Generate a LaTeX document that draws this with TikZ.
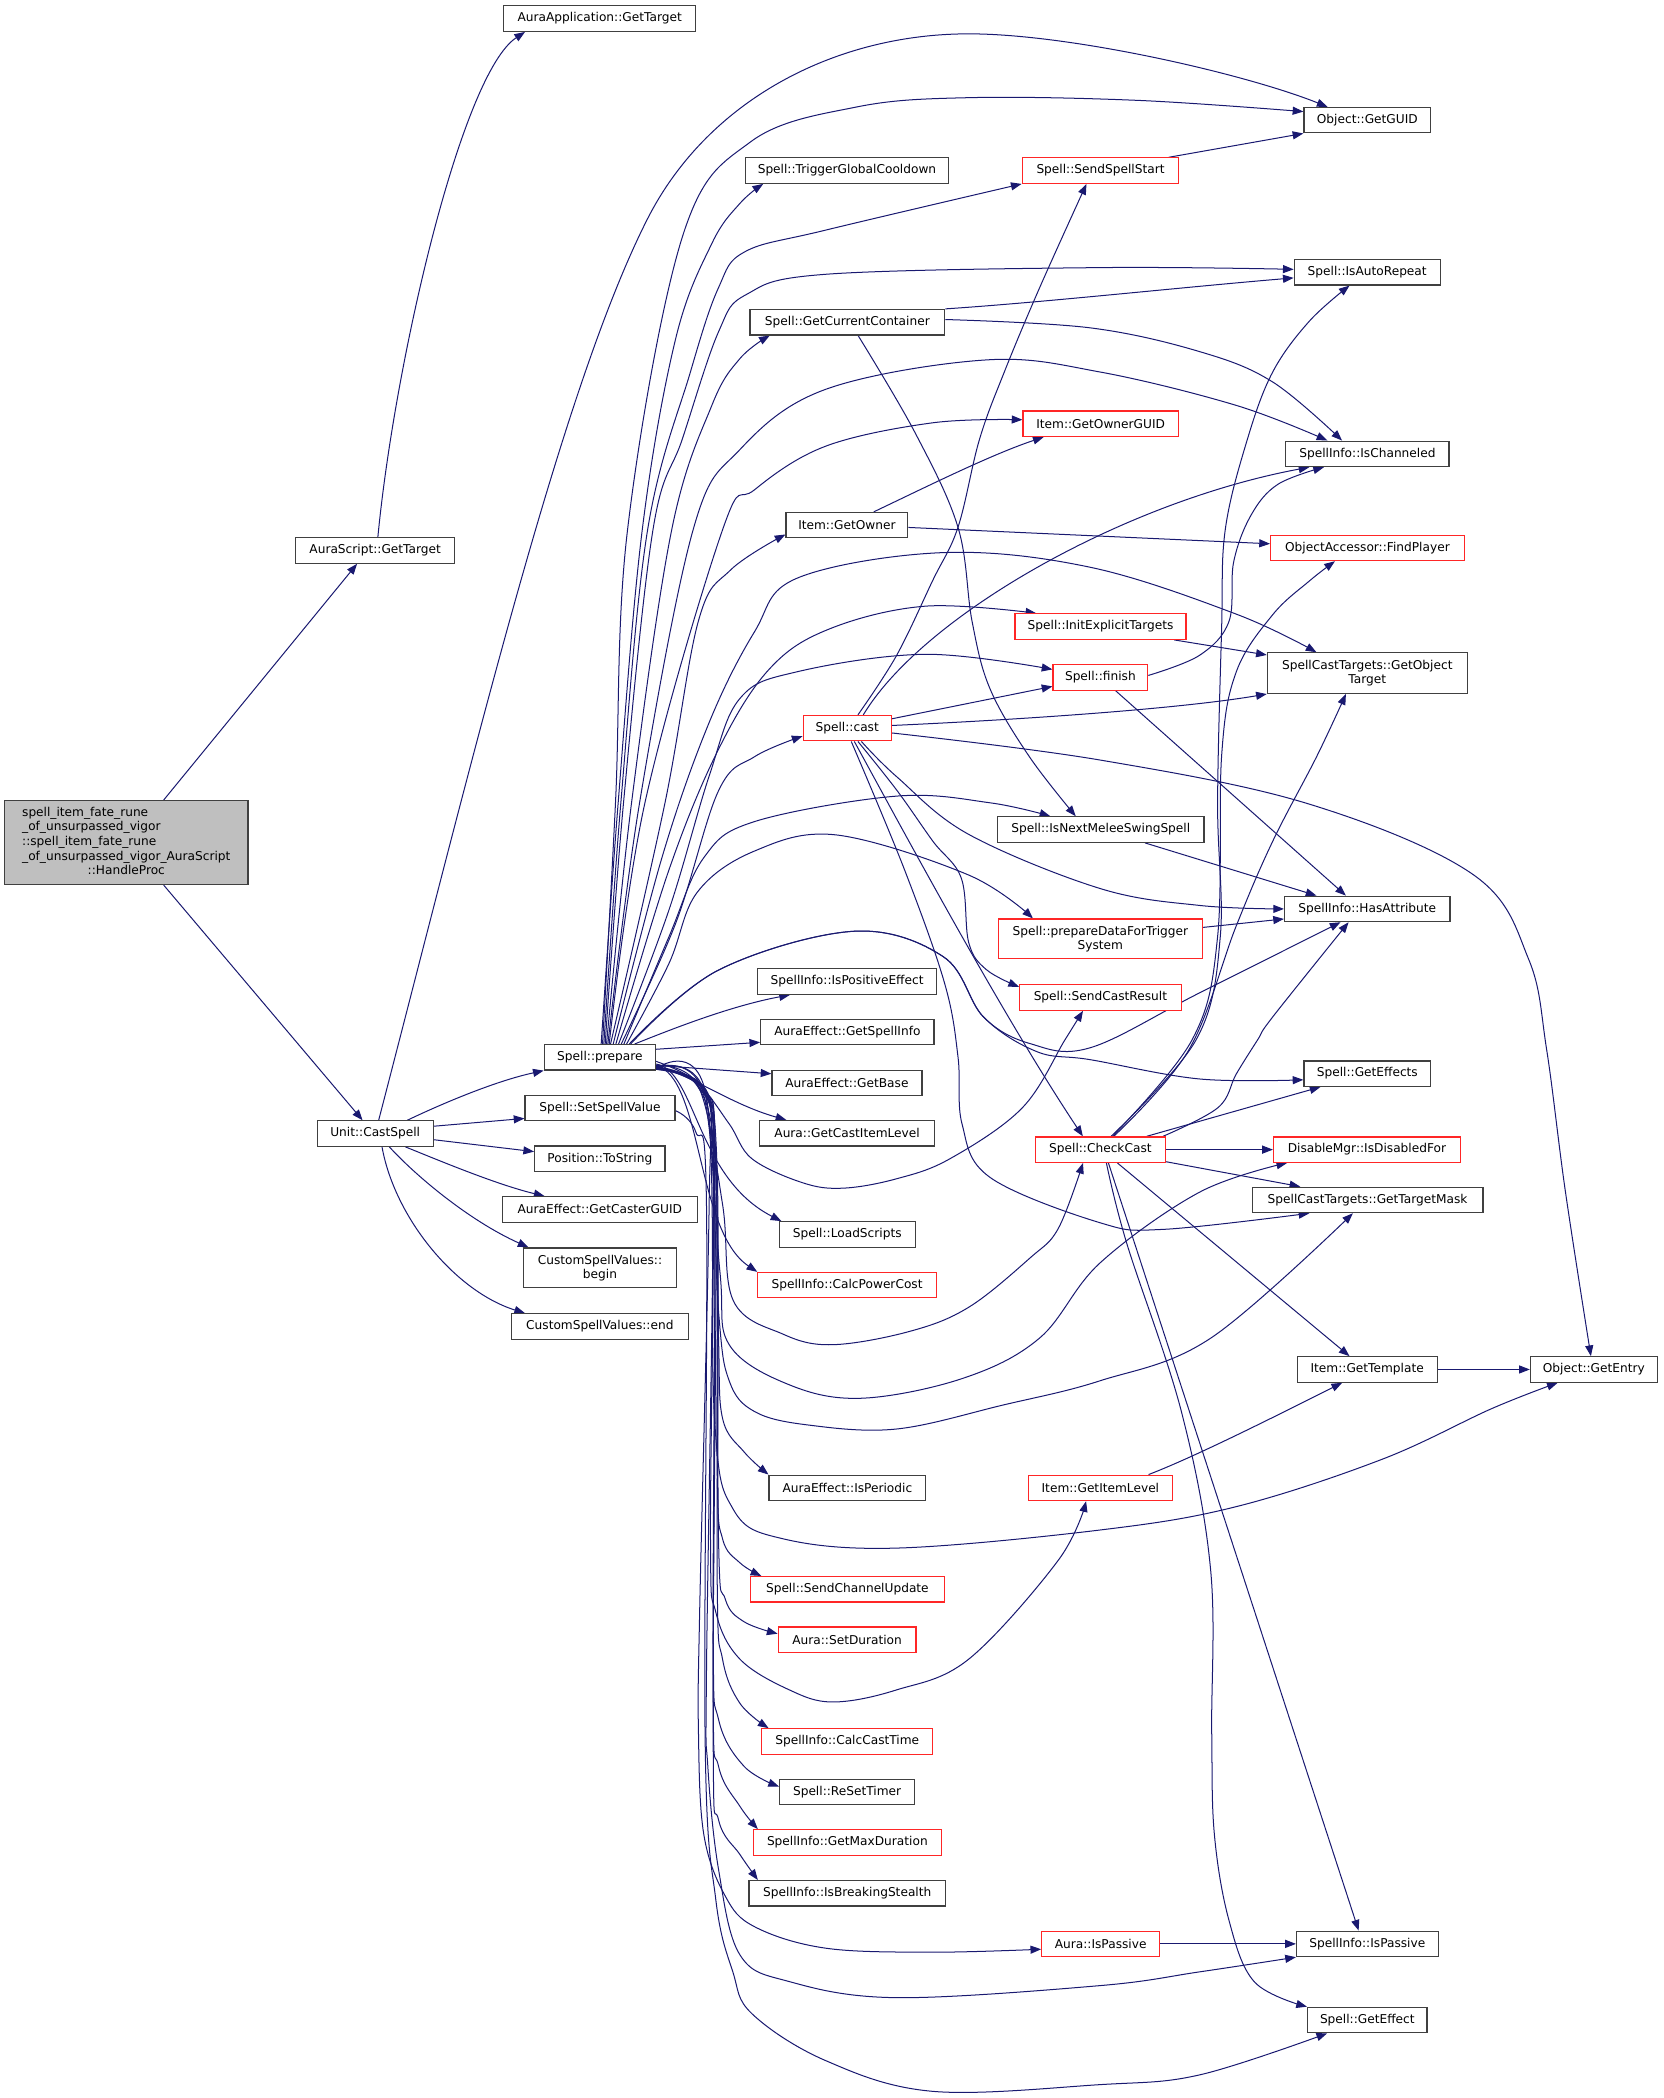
\documentclass[tikz,border=0pt]{standalone}
\usepackage{fontspec}
\setmainfont{DejaVu Sans}
\usetikzlibrary{arrows.meta,backgrounds}
\definecolor{edgeblue}{RGB}{25,25,112}
\definecolor{boxgray}{RGB}{64,64,64}
\definecolor{boxred}{RGB}{255,38,38}
\definecolor{rootgray}{RGB}{191,191,191}
\begin{document}
\begin{tikzpicture}[x=1pt,y=-1pt,
fn/.style={draw=boxgray,line width=0.9pt,fill=white,minimum height=19,inner sep=0pt,font=\fontsize{9.1}{10.6}\selectfont},
rfn/.style={fn,draw=boxred},
call/.style={draw=edgeblue,line width=0.75pt,-{Triangle[length=8pt,width=6pt]}},
sm/.style={smooth,tension=0.6}]
\useasboundingbox(0,0)rectangle(1243,1568);
% functions
\node[fn,fill=rootgray,minimum width=181.8,minimum height=62.6,font=\fontsize{9.1}{10.9}\selectfont](root)at(94.4,629.7){\begin{tabular}{@{}l@{}}spell\_item\_fate\_rune\\\_of\_unsurpassed\_vigor\\::spell\_item\_fate\_rune\\\_of\_unsurpassed\_vigor\_AuraScript\\\multicolumn{1}{@{}c@{}}{::HandleProc}\end{tabular}};
\node[fn,minimum width=143.6](aagt)at(448.2,13.9){AuraApplication::GetTarget};
\node[fn,minimum width=118.8](asgt)at(280.4,411.4){AuraScript::GetTarget};
\node[fn,minimum width=86.8](ucs)at(280.4,847.2){Unit::CastSpell};
\node[fn,minimum width=94.7](ogg)at(1021.9,89.8){Object::GetGUID};
\node[fn,minimum width=152](tgc)at(633,127.5){Spell::TriggerGlobalCooldown};
\node[rfn,minimum width=117](sss)at(822.5,127.5){Spell::SendSpellStart};
\node[fn,minimum width=109](iar)at(1021.8,203.5){Spell::IsAutoRepeat};
\node[fn,minimum width=145.5](gcc)at(633.3,240.8){Spell::GetCurrentContainer};
\node[rfn,minimum width=116](gog)at(822.6,316.7){Item::GetOwnerGUID};
\node[fn,minimum width=122](isch)at(1022,339.2){SpellInfo::IsChanneled};
\node[fn,minimum width=91](igo)at(633,392.5){Item::GetOwner};
\node[rfn,minimum width=144.8](ofp)at(1022,409.5){ObjectAccessor::FindPlayer};
\node[rfn,minimum width=127.8](iet)at(822.5,468.3){Spell::InitExplicitTargets};
\node[fn,minimum width=149.4,minimum height=30.3,align=center](got)at(1021.9,503.1){SpellCastTargets::GetObject\\Target};
\node[rfn,minimum width=70.8](fin)at(822.4,506.3){Spell::finish};
\node[rfn,minimum width=65.9](cst)at(633.2,544.2){Spell::cast};
\node[fn,minimum width=154.4](inm)at(822.7,620){Spell::IsNextMeleeSwingSpell};
\node[fn,minimum width=123.7](hat)at(1021.9,679.3){SpellInfo::HasAttribute};
\node[rfn,minimum width=152.8,minimum height=29.5,align=center](pdt)at(822.4,701.6){Spell::prepareDataForTrigger\\System};
\node[fn,minimum width=133.4](ipe)at(633.1,733.6){SpellInfo::IsPositiveEffect};
\node[rfn,minimum width=120.7](scr)at(822.4,745.5){Spell::SendCastResult};
\node[fn,minimum width=129.5](egsi)at(633.3,771.3){AuraEffect::GetSpellInfo};
\node[fn,minimum width=83](spr)at(448.3,790.2){Spell::prepare};
\node[fn,minimum width=94.7](sge)at(1021.9,802.4){Spell::GetEffects};
\node[fn,minimum width=112](egb)at(633,809.3){AuraEffect::GetBase};
\node[fn,minimum width=112](ssv)at(448.4,828.1){Spell::SetSpellValue};
\node[fn,minimum width=130.8](agcl)at(633.1,847){Aura::GetCastItemLevel};
\node[rfn,minimum width=96.8](ccst)at(822.4,859.2){Spell::CheckCast};
\node[rfn,minimum width=139.6](dmd)at(1021.6,859.2){DisableMgr::IsDisabledFor};
\node[fn,minimum width=97.4](pts)at(448.3,866){Position::ToString};
\node[fn,minimum width=172.6](gtm)at(1022.1,896.8){SpellCastTargets::GetTargetMask};
\node[fn,minimum width=145.4](egcg)at(448.3,903.9){AuraEffect::GetCasterGUID};
\node[fn,minimum width=101.5](sls)at(633.2,922.6){Spell::LoadScripts};
\node[fn,minimum width=114.8,minimum height=29.8,align=center](csvb)at(448.4,947.6){CustomSpellValues::\\begin};
\node[rfn,minimum width=133.4](ipc)at(633.1,960.5){SpellInfo::CalcPowerCost};
\node[fn,minimum width=132.2](csve)at(448.3,991.4){CustomSpellValues::end};
\node[fn,minimum width=104.6](igt)at(1021.8,1023.5){Item::GetTemplate};
\node[fn,minimum width=94.8](oge)at(1191.2,1023.5){Object::GetEntry};
\node[fn,minimum width=117](eip)at(633.3,1112){AuraEffect::IsPeriodic};
\node[rfn,minimum width=108](igil)at(822.4,1112){Item::GetItemLevel};
\node[rfn,minimum width=144.6](scu)at(633.3,1187.8){Spell::SendChannelUpdate};
\node[rfn,minimum width=103](asd)at(633.1,1225.5){Aura::SetDuration};
\node[rfn,minimum width=127.7](ict)at(633.2,1301.5){SpellInfo::CalcCastTime};
\node[fn,minimum width=100.9](srt)at(633.1,1339.2){Spell::ReSetTimer};
\node[rfn,minimum width=140.6](igmd)at(633.3,1377){SpellInfo::GetMaxDuration};
\node[fn,minimum width=146.8](ibs)at(633.2,1415){SpellInfo::IsBreakingStealth};
\node[rfn,minimum width=88](aip)at(822.6,1452.8){Aura::IsPassive};
\node[fn,minimum width=105.8](sip)at(1021.9,1452.8){SpellInfo::IsPassive};
\node[fn,minimum width=89.3](sgef)at(1021.9,1509.7){Spell::GetEffect};
% calls
\begin{pgfonlayer}{background}
\draw[call]([xshift=27.9]root.north)--([xshift=-13.5]asgt.south);
\draw[call]([xshift=27.9]root.south)--([xshift=-9.4]ucs.north);
\draw[call]([xshift=2]asgt.north) .. controls (295,270) and (345,55) .. ([xshift=-55.8]aagt.south);
% Unit::CastSpell
\draw[call]([xshift=2.6]ucs.north) .. controls (355,560) and (420,290) .. (483.6,164.2) .. controls (528.6,75) and (624,25.3) .. (724,25.3) .. controls (800,25.3) and (930,55) .. ([xshift=-29.7]ogg.north);
\draw[call]([xshift=24]ucs.north) .. controls (330,825) and (370,808) .. (spr.south west);
\draw[call]([yshift=5.5]ucs.east)--([yshift=-7.8]ssv.west);
\draw[call]([yshift=-4.6]ucs.east)--([yshift=5.3]pts.west);
\draw[call]([xshift=22.6]ucs.south) .. controls (325,866) and (370,885) .. ([xshift=-41.3]egcg.north);
\draw[call]([xshift=10.6]ucs.south) .. controls (310,878) and (350,912) .. ([xshift=-53.4]csvb.north);
\draw[call]([xshift=5.1]ucs.south) .. controls (295,910) and (340,965) .. ([xshift=-55.9]csve.north);
% Spell::prepare, upwards
\draw[call]plot[sm]coordinates{([xshift=2]spr.north)(460,600)(469,396)(510,177)(561,106)(640,80)(724,73)(850,75)([yshift=6.4]ogg.west)};
\draw[call]plot[sm]coordinates{([xshift=1]spr.north)(462,600)(480,396)(505,253)(532,182)(553,152)([xshift=-62.6]tgc.south)};
\draw[call]plot[sm]coordinates{([xshift=3]spr.north)(464,600)(484,396)(516,278)(537,215)(557,188)(617,172)(sss.south west)};
\draw[call]plot[sm]coordinates{([xshift=4]spr.north)(466,600)(488,396)(510,328)(537,248)(558,220)(617,205)(822,200)([yshift=2.2]iar.west)};
\draw[call]plot[sm]coordinates{([xshift=5]spr.north)(472,600)(502,396)(532,303)(553,268)([xshift=-58]gcc.south)};
\draw[call]plot[sm]coordinates{([xshift=6]spr.north)(478,600)(518,396)(553,336)(617,291)(737,269)(822,278)(924,303)([xshift=-30]isch.north)};
\draw[call]plot[sm]coordinates{([xshift=7]spr.north)(482,600)(540,396)(564,366)(617,333.5)(697,316)([yshift=3]gog.west)};
\draw[call]plot[sm]coordinates{([xshift=8]spr.north)(497,600)(522,464)(546,426)([yshift=3]igo.south west)};
\draw[call]plot[sm]coordinates{([xshift=10]spr.north)(495,640)(530,540)(564,472)(596,432)(705,413)(815,424)(924,459)([xshift=-38]got.north)};
\draw[call]plot[sm]coordinates{([xshift=12]spr.north)(500,650)(537,560)(575,500)(620,470)(692,453)([xshift=-48]iet.north)};
\draw[call]plot[sm]coordinates{([xshift=14]spr.north)(500,680)(530,580)(553,522)(596,502)(692,489)([yshift=6]fin.west)};
\draw[call]plot[sm]coordinates{([xshift=16]spr.north)(505,690)(537,591)(564,565.5)([yshift=-6]cst.west)};
\draw[call]plot[sm]coordinates{([xshift=18]spr.north)(500,700)(526,641)(564,614)(670,595)(740,600)([xshift=-37.7]inm.north)};
\draw[call]plot[sm]coordinates{([xshift=20]spr.north)(500,720)(521,667)(564,636)(625,624)(724,654)([xshift=-50.4]pdt.north)};
\draw[call]plot[sm]coordinates{([xshift=22]spr.north)(537,725)(638,696)(705,715)(735,760)(770,780)(815,783)(896.6,742)([xshift=-20]hat.south)};
\draw[call]plot[sm]coordinates{([xshift=23]spr.north)(537,725)(638,696)(705,715)(735,760)(775,786)(815,792)(896.6,806.4)([yshift=-4.6]sge.west)};
\draw[call]([xshift=26]spr.north) .. controls (500,770) and (545,752) .. ([xshift=-42.7]ipe.south);
\draw[call]([yshift=6]spr.east)--([yshift=-7.7]egsi.west);
\draw[call]([yshift=-6]spr.east)--([yshift=6.8]egb.west);
\draw[call]([yshift=-7]spr.east) .. controls (515,802) and (545,825) .. ([xshift=-45.4]agcl.north);
% Spell::prepare, downwards
\draw[call]([yshift=-5]spr.east) .. controls (520,800) and (520,880) .. ([xshift=2]sls.north west);
\draw[call]([yshift=-6]spr.east) .. controls (525,805) and (520,920) .. (ipc.north west);
\draw[call]plot[sm]coordinates{([yshift=-3]spr.east)(520,808)(545,840)(562,866)(600,884)(630,888)(670,881)(710,866)(764,828)(796,777)([xshift=-13]scr.south)};
\draw[call]plot[sm]coordinates{([yshift=-6]spr.east)(522,812)(540,900)(548,972)(585,997)(622,1005)(680,995)(724,977)(770,940)(791,918)([xshift=-13]ccst.south)};
\draw[call]plot[sm]coordinates{([yshift=-7]spr.east)(525,815)(538,950)(545,1005)(590,1035)(644,1045)(720,1030)(777,1000)(822,944)(896.5,891)([xshift=-59.6]dmd.south)};
\draw[call]plot[sm]coordinates{([yshift=-8]spr.east)(527,818)(537,980)(545,1032)(564,1055)(604,1065)(670,1068)(750,1050)(822,1032)(905,1000)([xshift=-11]gtm.south)};
\draw[call]plot[sm]coordinates{([yshift=-7]spr.east)(520,810)(534,860)(537,1000)(540,1060)(556,1085)(eip.north west)};
\draw[call]plot[sm]coordinates{([yshift=-8.5]spr.east)(528,820)(534,1060)(548,1128)(585,1150)(670,1157)(822,1143.5)(924,1126)(1033,1090.6)(1115,1052.7)([xshift=-27]oge.south)};
\draw[call]plot[sm]coordinates{([yshift=-8]spr.east)(521,811)(535,865)(536,1100)(540,1150)(553,1168)([xshift=-64.3]scu.north)};
\draw[call]plot[sm]coordinates{([yshift=-8]spr.east)(522,812)(535,870)(537,1150)(542,1195)(556,1212)([yshift=4.5]asd.west)};
\draw[call]plot[sm]coordinates{([yshift=-9]spr.east)(523,813)(533,870)(531,1150)(535,1205)(553,1240)(590,1263)(622.6,1272)(670,1263)(724,1240)(791,1166)([xshift=-10.7]igil.south)};
\draw[call]plot[sm]coordinates{([yshift=-8]spr.east)(524,813)(536,875)(536,1180)(540,1240)(553,1273)([xshift=-58.8]ict.north)};
\draw[call]plot[sm]coordinates{([yshift=-8]spr.east)(525,814)(534,880)(533,1220)(537,1285)(556,1320)([yshift=4]srt.west)};
\draw[call]plot[sm]coordinates{([yshift=-8]spr.east)(526,814)(535,880)(533,1260)(537,1320)(553,1350)([xshift=-66.9]igmd.north)};
\draw[call]plot[sm]coordinates{([yshift=-8]spr.east)(527,815)(534,885)(533,1300)(537,1360)(553,1386)([xshift=-66.8]ibs.north)};
\draw[call]plot[sm]coordinates{([yshift=-9]spr.east)(528,816)(530,900)(523,1200)(522,1294)(526,1371)(542,1417)(564,1440)(617,1456)(697,1459)([yshift=-4]aip.west)};
\draw[call]plot[sm]coordinates{([yshift=-9]spr.east)(529,817)(533,900)(528,1250)(529,1320)(537,1397)(553,1461)(590,1481)(670,1493)(822,1484)(896.6,1473.7)(sip.south west)};
% Spell::SetSpellValue
\draw[call]plot[sm]coordinates{([yshift=-2]ssv.east)(520,846)(528,900)(527,1300)(535,1420)(547.7,1473.7)(562,1505)(617,1540)(697,1563)(822,1558)(896.6,1550.7)([xshift=-30]sgef.south)};
% Spell::cast
\draw[call]plot[sm]coordinates{([xshift=8]cst.north)(670,490)(697,434)(716,394)(732,328.5)(750.6,278)(777,215)([xshift=-10.5]sss.south)};
\draw[call]([xshift=12]cst.north) .. controls (690,460) and (840,375) .. ([xshift=-43.4]isch.south);
\draw[call]([yshift=7]cst.east)--([yshift=-6.7]fin.west);
\draw[call]([yshift=2]cst.east) .. controls (760,538) and (880,530) .. (got.south west);
\draw[call]plot[sm]coordinates{([yshift=-3.6]cst.east)(822,568)(978.6,601)(1101.5,654)(1142.5,717)(1156,785)(1170,891)([xshift=-2.2]oge.north)};
\draw[call]plot[sm]coordinates{([xshift=10.6]cst.south)(670.4,580.7)(724,623.6)(822,664)(896.6,676.7)(hat.west)};
\draw[call]plot[sm]coordinates{([xshift=8]cst.south)(670.4,590.8)(697.2,628.7)(718.5,656.5)(724,704.5)(737.2,724.7)([yshift=-2]scr.north west)};
\draw[call]plot[sm]coordinates{([xshift=3]cst.south)(676,650)(706,735)(716,790)(719,840)(740,880)(822,913.8)(869.3,918.8)([xshift=-43.5]gtm.south)};
\draw[call]([xshift=5.3]cst.south) .. controls (680,630) and (750,760) .. ([xshift=-13.1]ccst.north);
% Spell::GetCurrentContainer, Item::GetOwner
\draw[call](gcc.north east) .. controls (780,226) and (880,215) .. ([yshift=-4.2]iar.west);
\draw[call]plot[sm]coordinates{([yshift=2]gcc.east)(814.6,245)(896.6,262.8)(951.2,285.5)([xshift=-19]isch.north)};
\draw[call]plot[sm]coordinates{([xshift=8]gcc.south)(683.9,323.4)(716,394.2)(726.5,464.4)(740,515)(769.3,565.5)([xshift=-18.7]inm.north)};
\draw[call]([xshift=20]igo.north) .. controls (690,365) and (740,340) .. ([xshift=-42.6]gog.south);
\draw[call]([yshift=-1.7]igo.east)--([yshift=3.1]ofp.west);
\draw[call]([xshift=51]sss.north)--(ogg.south west);
% Spell::finish and others
\draw[call]([xshift=55]iet.south)--([yshift=-2]got.north west);
\draw[call]plot[sm]coordinates{([yshift=1.5]fin.east)(896.6,489.7)(918.5,464.4)(922,420)(935,385)(955,362)([xshift=-32.5]isch.south)};
\draw[call]([xshift=11.4]fin.south)--([xshift=-16]hat.north);
\draw[call]([xshift=33]inm.south)--([xshift=-38]hat.north);
\draw[call]([yshift=8.5]pdt.east)--([yshift=-7.5]hat.west);
% Spell::CheckCast
\draw[call]plot[sm]coordinates{([xshift=8]ccst.north)(894,777)(912,700)(910,600)(913,470)(915.7,396)(932.2,328.5)(951.2,278)(978.6,240)([xshift=-13.2]iar.south)};
\draw[call]plot[sm]coordinates{([xshift=9]ccst.north)(891,777)(910,700)(913,565)(924,502)(951.2,459.4)(978.6,434.2)([xshift=-24.3]ofp.south)};
\draw[call]plot[sm]coordinates{([xshift=10]ccst.north)(888.4,784.8)(924,691.8)(951.2,628.7)(984,565.5)([xshift=-16]got.south)};
\draw[call]plot[sm]coordinates{([xshift=46.8]ccst.north)(910.3,827.8)(924,802.6)(940,777)(951.2,760)([xshift=-14]hat.south)};
\draw[call]([xshift=34.6]ccst.north)--([xshift=-35]sge.south);
\draw[call](ccst.east)--(dmd.west);
\draw[call]([yshift=-9]ccst.east)--([xshift=-50.3]gtm.north);
\draw[call]([xshift=12.7]ccst.south)--([xshift=-13.2]igt.north);
\draw[call]plot[sm]coordinates{([xshift=4.5]ccst.south)(842,928.9)(883,1055.2)(904.8,1173.4)(905.6,1294.2)(907.6,1371.1)(918.5,1435.2)(937.6,1481.3)(sgef.north west)};
\draw[call]([xshift=6]ccst.south)--([xshift=-6.5]sip.north);
% items and auras
\draw[call](aip.east)--(sip.west);
\draw[call]([xshift=36]igil.north) .. controls (895,1088) and (960,1055) .. ([xshift=-18.7]igt.south);
\draw[call](igt.east)--(oge.west);
\end{pgfonlayer}
\end{tikzpicture}
\end{document}
